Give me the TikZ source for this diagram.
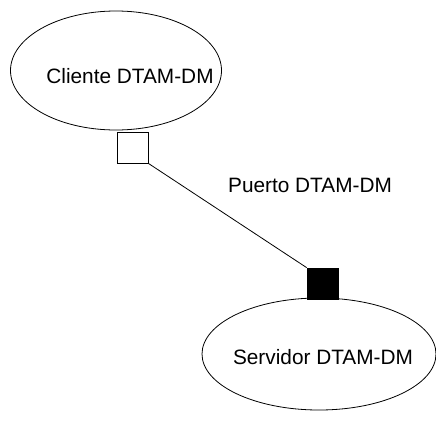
\documentclass[tikz,border=0pt]{standalone}
\usepackage{fontspec}
\setmainfont{Liberation Sans}
\usetikzlibrary{shapes.geometric}
\tikzset{
componente/.style = {draw=black, ellipse, line width=0.8pt, inner sep=0pt}
         }
\tikzset{
puerto/.style = {draw=black, rectangle, line width=0.8pt, minimum size=31pt, inner sep=0pt}
         }

\begin{document}
\begin{tikzpicture}[x=1pt,y=-1pt]
    \useasboundingbox (0,0) rectangle (436,421);
    \fontsize{20.8}{25}\selectfont

    % COMPONENTES
    \node[componente, minimum width=211pt, minimum height=119pt] (cliente) at (116,70.5) {};
    \node at (130,76) {Cliente DTAM-DM};
    \node[componente, minimum width=234pt, minimum height=112pt] (servidor) at (319,354) {};
    \node at (323,357) {Servidor DTAM-DM};

    % PUERTOS
    \node[puerto, fill=white] (pcliente) at (132.5,147.5) {};
    \node[puerto, fill=black] (pservidor) at (322.5,283.5) {};

    % CONECTOR
    \draw[line width=0.8pt] (pcliente.south east) -- (pservidor.north west);
    \node (etiqueta) at (310,185) {Puerto DTAM-DM};

\end{tikzpicture}
\end{document}
